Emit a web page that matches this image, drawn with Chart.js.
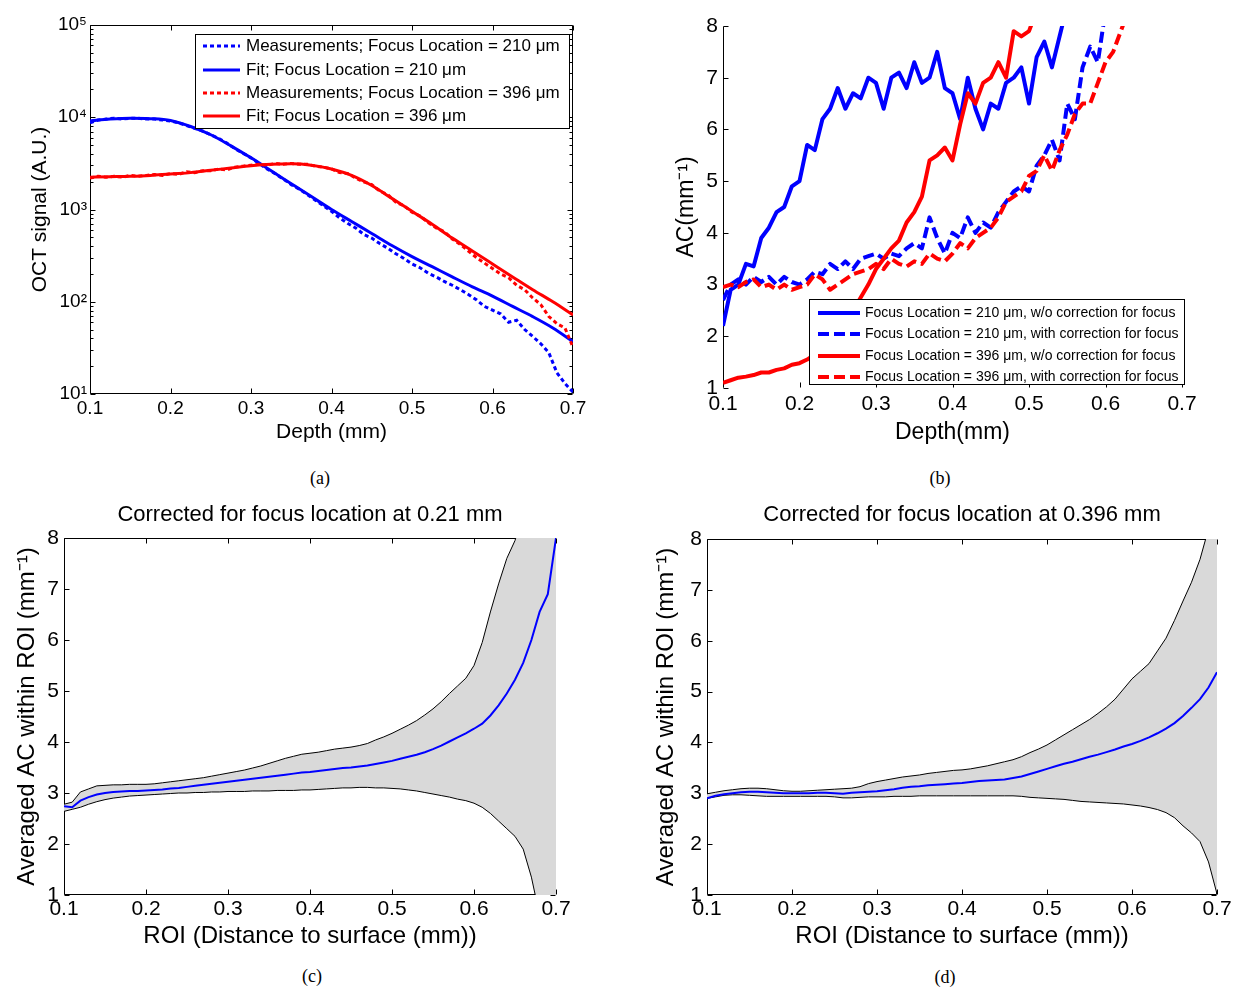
<!DOCTYPE html>
<html>
<head>
<meta charset="utf-8">
<script src="https://cdn.jsdelivr.net/npm/chart.js@4.4.1/dist/chart.umd.min.js"></script>
<style>
html,body{margin:0;padding:0;background:#fff;}
body{width:1241px;height:990px;position:relative;overflow:hidden;}
canvas{position:absolute;}
.cap{position:absolute;font-family:"Liberation Serif","Times New Roman",serif;font-size:18px;color:#000;transform:translate(-50%,-50%);white-space:nowrap;}
</style>
</head>
<body>
<canvas id="ca" width="620" height="455" style="left:0px;top:0px"></canvas>
<canvas id="cb" width="621" height="455" style="left:620px;top:0px"></canvas>
<canvas id="cc" width="620" height="470" style="left:0px;top:490px"></canvas>
<canvas id="cd" width="621" height="470" style="left:620px;top:490px"></canvas>
<div class="cap" style="left:320px;top:478px">(a)</div>
<div class="cap" style="left:940px;top:478px">(b)</div>
<div class="cap" style="left:312px;top:976px">(c)</div>
<div class="cap" style="left:945px;top:977px">(d)</div>
<script>
// ---------------- DATA ----------------
const depthTicks = [0.1, 0.2, 0.3, 0.4, 0.5, 0.6, 0.7];
const depthTickLabels = ['0.1', '0.2', '0.3', '0.4', '0.5', '0.6', '0.7'];
const octTicks = [10, 100, 1000, 10000, 100000];
const octTickLabels = ['10\u00B9', '10\u00B2', '10\u00B3', '10\u2074', '10\u2075'];
const acTicks = [1, 2, 3, 4, 5, 6, 7, 8];
const acTickLabels = ['1', '2', '3', '4', '5', '6', '7', '8'];

// (a) depth grid for measurements and averaged AC (mm)
const depth61 = [0.10,0.11,0.12,0.13,0.14,0.15,0.16,0.17,0.18,0.19,
  0.20,0.21,0.22,0.23,0.24,0.25,0.26,0.27,0.28,0.29,
  0.30,0.31,0.32,0.33,0.34,0.35,0.36,0.37,0.38,0.39,
  0.40,0.41,0.42,0.43,0.44,0.45,0.46,0.47,0.48,0.49,
  0.50,0.51,0.52,0.53,0.54,0.55,0.56,0.57,0.58,0.59,
  0.60,0.61,0.62,0.63,0.64,0.65,0.66,0.67,0.68,0.69,0.70];
const depthFit = [0.1,0.125,0.15,0.175,0.2,0.225,0.25,0.275,0.3,0.325,0.35,0.375,0.4,
  0.425,0.45,0.475,0.5,0.525,0.55,0.575,0.6,0.625,0.65,0.675,0.7];

const octMeas210 = [8710,9330,9550,9770,9550,9770,9770,9550,9550,9330,
  9120,8710,8130,7590,7080,6460,5890,5250,4570,4070,
  3630,3160,2750,2450,2140,1860,1660,1450,1260,1100,
  955,813,708,631,537,490,427,380,331,295,
  257,234,204,186,166,151,135,120,105,89,
  81,74,60,63,50,42,35,28,17,13,10.5];
const octFit210 = [9120,9550,9770,9660,9230,7940,6460,4900,3630,2630,1905,1380,1000,
  741,550,407,309,240,186,145,115,89,69,52,37];
const octMeas396 = [2190,2290,2240,2290,2240,2340,2290,2340,2400,2340,
  2455,2400,2570,2510,2630,2630,2750,2690,2880,2950,
  3020,3090,3020,3160,3090,3160,3090,3090,2950,2880,
  2750,2510,2455,2190,1995,1860,1585,1445,1200,1100,
  933,851,724,631,575,479,417,355,302,263,
  229,200,182,151,135,110,93,69,58,52,32];
const octFit396 = [2240,2265,2290,2340,2430,2510,2660,2820,2985,3090,3125,3020,2750,
  2340,1820,1320,955,692,490,355,257,186,135,100,72];

// (b) attenuation coefficient vs depth
const depthB = [0.10,0.11,0.12,0.13,0.14,0.15,0.16,0.17,0.18,0.19,
  0.20,0.21,0.22,0.23,0.24,0.25,0.26,0.27,0.28,0.29,
  0.30,0.31,0.32,0.33,0.34,0.35,0.36,0.37,0.38,0.39,
  0.40,0.41,0.42,0.43,0.44,0.45,0.46,0.47,0.48,0.49,
  0.50,0.51,0.52,0.53,0.54,0.55,0.56,0.57,0.58,0.59,
  0.60,0.61,0.62,0.63];
const ac210NoCorr = [2.2,2.9,3.0,3.4,3.35,3.9,4.1,4.4,4.5,4.9,
  5.0,5.7,5.6,6.2,6.4,6.8,6.4,6.7,6.6,7.0,
  6.9,6.4,7.0,7.1,6.8,7.3,6.9,7.0,7.5,6.8,
  6.7,6.2,7.0,6.4,6.0,6.5,6.4,6.9,7.0,7.2,
  6.5,7.4,7.7,7.2,7.8,8.4,null,null,null,null,
  null,null,null,null];
const ac210Corr = [2.7,3.0,3.1,3.0,3.15,3.05,3.15,3.0,3.15,3.05,
  3.0,3.1,3.25,3.2,3.4,3.3,3.45,3.3,3.5,3.55,
  3.6,3.5,3.6,3.55,3.7,3.8,3.7,4.3,3.9,3.6,
  4.0,3.9,4.3,4.0,4.2,4.1,4.4,4.6,4.8,4.9,
  4.8,5.3,5.5,5.8,5.4,6.5,6.2,7.2,7.6,7.3,
  8.3,null,null,null];
const ac396NoCorr = [1.1,1.15,1.2,1.22,1.25,1.3,1.3,1.35,1.38,1.45,
  1.48,1.55,1.65,1.8,1.95,2.1,2.3,2.5,2.75,3.0,
  3.3,3.5,3.7,3.85,4.2,4.4,4.7,5.4,5.5,5.65,
  5.4,6.1,6.7,6.5,6.9,7.0,7.3,7.0,7.9,7.8,
  7.9,8.3,null,null,null,null,null,null,null,null,
  null,null,null,null];
const ac396Corr = [2.95,3.0,2.95,3.05,3.1,2.95,3.0,2.9,3.0,2.9,
  2.95,3.0,3.2,3.1,2.9,3.0,3.1,3.2,3.25,3.3,
  3.4,3.3,3.5,3.4,3.35,3.45,3.4,3.6,3.5,3.45,
  3.6,3.8,3.7,3.9,4.0,4.1,4.3,4.6,4.7,4.8,
  5.1,5.2,5.5,5.2,5.6,5.9,6.3,6.5,6.5,6.9,
  7.3,7.5,7.9,8.3];

// (c) averaged AC within ROI, focus 0.21 mm
const meanC = [2.74,2.72,2.85,2.92,2.97,3.00,3.02,3.03,3.04,3.04,
  3.05,3.06,3.07,3.09,3.10,3.12,3.14,3.16,3.18,3.20,
  3.22,3.24,3.26,3.28,3.30,3.32,3.34,3.36,3.38,3.40,
  3.41,3.43,3.45,3.47,3.49,3.50,3.52,3.54,3.57,3.60,
  3.63,3.67,3.71,3.75,3.80,3.86,3.93,4.01,4.09,4.17,
  4.26,4.36,4.52,4.72,4.95,5.22,5.55,6.00,6.55,6.90,8.0];
const upperC = [2.78,2.82,3.02,3.08,3.14,3.15,3.16,3.16,3.17,3.17,
  3.17,3.18,3.20,3.22,3.24,3.26,3.28,3.30,3.33,3.36,
  3.39,3.42,3.45,3.49,3.53,3.58,3.63,3.68,3.72,3.76,
  3.78,3.80,3.83,3.86,3.88,3.90,3.93,3.97,4.04,4.10,
  4.17,4.25,4.33,4.42,4.53,4.65,4.79,4.95,5.10,5.25,
  5.50,5.95,6.55,7.10,7.60,7.95,8.5,9.0,9.5,10,10.5];
const lowerC = [2.64,2.68,2.72,2.78,2.83,2.87,2.90,2.92,2.94,2.95,
  2.96,2.97,2.98,2.99,3.00,3.00,3.01,3.01,3.02,3.02,
  3.03,3.03,3.03,3.04,3.04,3.04,3.05,3.05,3.05,3.06,
  3.06,3.07,3.08,3.09,3.10,3.10,3.11,3.11,3.10,3.10,
  3.09,3.08,3.06,3.04,3.01,2.98,2.95,2.92,2.88,2.85,
  2.80,2.72,2.60,2.45,2.30,2.15,1.90,1.35,0.6,0.0,-0.5];

// (d) averaged AC within ROI, focus 0.396 mm
const meanD = [2.90,2.95,2.98,3.00,3.02,3.03,3.03,3.02,3.01,3.00,
  3.00,3.00,3.00,3.01,3.01,3.00,2.99,3.01,3.02,3.03,
  3.04,3.06,3.08,3.11,3.13,3.14,3.16,3.17,3.18,3.19,
  3.20,3.22,3.24,3.25,3.26,3.27,3.30,3.33,3.38,3.43,
  3.48,3.53,3.58,3.62,3.67,3.72,3.76,3.81,3.86,3.92,
  3.97,4.03,4.10,4.18,4.27,4.38,4.52,4.68,4.85,5.08,5.38];
const upperD = [2.99,3.02,3.05,3.07,3.09,3.10,3.10,3.09,3.07,3.05,
  3.04,3.04,3.05,3.06,3.07,3.08,3.09,3.10,3.13,3.19,
  3.23,3.26,3.29,3.32,3.34,3.36,3.39,3.41,3.43,3.45,
  3.46,3.48,3.51,3.54,3.58,3.62,3.66,3.72,3.80,3.87,
  3.95,4.05,4.15,4.25,4.35,4.45,4.57,4.70,4.85,5.05,
  5.25,5.40,5.55,5.80,6.05,6.40,6.78,7.15,7.60,8.2,8.8];
const lowerD = [2.90,2.93,2.96,2.97,2.97,2.96,2.95,2.94,2.94,2.94,
  2.94,2.94,2.94,2.94,2.94,2.93,2.91,2.91,2.92,2.93,
  2.93,2.93,2.94,2.94,2.94,2.95,2.95,2.95,2.95,2.95,
  2.95,2.95,2.95,2.95,2.95,2.95,2.95,2.94,2.92,2.91,
  2.90,2.89,2.88,2.86,2.84,2.83,2.82,2.81,2.80,2.79,
  2.77,2.75,2.72,2.68,2.62,2.52,2.36,2.22,2.05,1.65,1.02];

// ---------------- STYLE / HELPERS ----------------
const FONT = '"Liberation Sans", Arial, Helvetica, sans-serif';
const BLUE = '#0000ff', RED = '#ff0000', GRAY = '#d9d9d9';
Chart.defaults.font.family = FONT;
Chart.defaults.color = '#000';

function pts(xs, ys) { return xs.map((x, i) => ({x: x, y: ys[i]})); }

function axis(o) {
  return {
    type: o.type || 'linear', min: o.min, max: o.max,
    grid: {display: false, drawTicks: false},
    border: {display: false},
    afterBuildTicks: s => { s.ticks = o.ticks.map(v => ({value: v})); },
    afterFit: s => { if (o.horizontal) s.height = o.fit; else s.width = o.fit; },
    ticks: {autoSkip: false, maxRotation: 0, minRotation: 0, padding: o.tickPad, color: '#000',
      font: {size: o.size, family: FONT}, callback: (v, i) => o.labels[i]},
    title: {display: true, text: o.title, color: '#000', font: {size: o.titleSize, family: FONT}, padding: o.titlePad}
  };
}

const matlabAxes = {
  id: 'matlabAxes',
  beforeDatasetsDraw(chart, args, o) {
    const {ctx, chartArea: a} = chart;
    const xs = chart.scales.x, ys = chart.scales.y;
    const L = a.left + 0.5, R = a.right - 0.5, T = a.top + 0.5, B = a.bottom - 0.5;
    ctx.save();
    ctx.strokeStyle = '#000'; ctx.lineWidth = 1;
    ctx.beginPath();
    const s = o.sides;
    if (s.includes('left')) { ctx.moveTo(L, T); ctx.lineTo(L, B); }
    if (s.includes('right')) { ctx.moveTo(R, T); ctx.lineTo(R, B); }
    if (s.includes('top')) { ctx.moveTo(L, T); ctx.lineTo(R, T); }
    if (s.includes('bottom')) { ctx.moveTo(L, B); ctx.lineTo(R, B); }
    const tl = o.tickLen;
    xs.ticks.forEach(t => {
      const p = Math.round(xs.getPixelForValue(t.value)) + 0.5;
      if (o.xTicks.includes('bottom')) { ctx.moveTo(p, B); ctx.lineTo(p, B - tl); }
      if (o.xTicks.includes('top')) { ctx.moveTo(p, T); ctx.lineTo(p, T + tl); }
    });
    ys.ticks.forEach(t => {
      const p = Math.round(ys.getPixelForValue(t.value)) + 0.5;
      if (o.yTicks.includes('left')) { ctx.moveTo(L, p); ctx.lineTo(L + tl, p); }
      if (o.yTicks.includes('right')) { ctx.moveTo(R, p); ctx.lineTo(R - tl, p); }
    });
    if (o.minorLog) {
      ys.ticks.forEach(t => {
        for (let m = 2; m <= 9; m++) {
          const v = t.value * m;
          if (v >= ys.max) continue;
          const p = Math.round(ys.getPixelForValue(v)) + 0.5;
          ctx.moveTo(L, p); ctx.lineTo(L + o.minorLen, p);
          ctx.moveTo(R, p); ctx.lineTo(R - o.minorLen, p);
        }
      });
    }
    ctx.stroke();
    ctx.restore();
  }
};

const boxLegend = {
  id: 'boxLegend',
  afterDraw(chart, args, o) {
    const {ctx} = chart;
    ctx.save();
    ctx.fillStyle = '#fff';
    ctx.fillRect(o.x, o.y, o.w, o.h);
    ctx.strokeStyle = '#000'; ctx.lineWidth = 1;
    ctx.strokeRect(o.x + 0.5, o.y + 0.5, o.w - 1, o.h - 1);
    ctx.font = o.fontSize + 'px ' + FONT;
    ctx.textBaseline = 'middle';
    chart.data.datasets.forEach((ds, i) => {
      const cy = o.rows[i];
      ctx.save();
      ctx.strokeStyle = ds.borderColor; ctx.lineWidth = ds.borderWidth;
      ctx.setLineDash(ds.borderDash || []);
      ctx.beginPath(); ctx.moveTo(o.lineX0, cy); ctx.lineTo(o.lineX1, cy); ctx.stroke();
      ctx.restore();
      ctx.fillStyle = '#000';
      ctx.fillText(ds.label, o.textX, cy);
    });
    ctx.restore();
  }
};

const baseOpts = {animation: false, responsive: false, devicePixelRatio: 1, events: []};

// ---------------- (a) ----------------
new Chart(document.getElementById('ca'), {
  type: 'line',
  data: {datasets: [
    {label: 'Measurements; Focus Location = 210 \u03BCm', data: pts(depth61, octMeas210), borderColor: BLUE, borderWidth: 3, borderDash: [4, 3], pointRadius: 0, fill: false, order: 4},
    {label: 'Fit; Focus Location = 210 \u03BCm', data: pts(depthFit, octFit210), borderColor: BLUE, borderWidth: 3, pointRadius: 0, fill: false, cubicInterpolationMode: 'monotone', order: 3},
    {label: 'Measurements; Focus Location = 396 \u03BCm', data: pts(depth61, octMeas396), borderColor: RED, borderWidth: 3, borderDash: [4, 3], pointRadius: 0, fill: false, order: 2},
    {label: 'Fit; Focus Location = 396 \u03BCm', data: pts(depthFit, octFit396), borderColor: RED, borderWidth: 3, pointRadius: 0, fill: false, cubicInterpolationMode: 'monotone', order: 1}
  ]},
  options: Object.assign({}, baseOpts, {
    layout: {padding: {left: 0, top: 25, right: 47, bottom: 0}},
    scales: {
      x: axis({min: 0.1, max: 0.7, ticks: depthTicks, labels: depthTickLabels, size: 19, fit: 61, horizontal: true, tickPad: 3,
        title: 'Depth (mm)', titleSize: 21, titlePad: {top: 0, bottom: 10}}),
      y: axis({type: 'logarithmic', min: 10, max: 100000, ticks: octTicks, labels: octTickLabels, size: 19, fit: 90, tickPad: 3,
        title: 'OCT signal (A.U.)', titleSize: 21, titlePad: {top: 28, bottom: 0}})
    },
    plugins: {
      legend: {display: false}, tooltip: {enabled: false},
      matlabAxes: {sides: ['left', 'right', 'top', 'bottom'], xTicks: ['bottom', 'top'], yTicks: ['left', 'right'], tickLen: 5, minorLog: true, minorLen: 3},
      boxLegend: {x: 195, y: 34, w: 375, h: 95, rows: [46, 70, 93, 116], lineX0: 203, lineX1: 240, textX: 246, fontSize: 17}
    }
  }),
  plugins: [matlabAxes, boxLegend]
});

// ---------------- (b) ----------------
new Chart(document.getElementById('cb'), {
  type: 'line',
  data: {datasets: [
    {label: 'Focus Location = 210 \u03BCm, w/o correction for focus', data: pts(depthB, ac210NoCorr), borderColor: BLUE, borderWidth: 4, pointRadius: 0, fill: false, borderJoinStyle: 'round', order: 4},
    {label: 'Focus Location = 210 \u03BCm, with correction for focus', data: pts(depthB, ac210Corr), borderColor: BLUE, borderWidth: 4, borderDash: [11, 5], pointRadius: 0, fill: false, borderJoinStyle: 'round', order: 3},
    {label: 'Focus Location = 396 \u03BCm, w/o correction for focus', data: pts(depthB, ac396NoCorr), borderColor: RED, borderWidth: 4, pointRadius: 0, fill: false, borderJoinStyle: 'round', order: 2},
    {label: 'Focus Location = 396 \u03BCm, with correction for focus', data: pts(depthB, ac396Corr), borderColor: RED, borderWidth: 4, borderDash: [11, 5], pointRadius: 0, fill: false, borderJoinStyle: 'round', order: 1}
  ]},
  options: Object.assign({}, baseOpts, {
    layout: {padding: {left: 0, top: 26, right: 59, bottom: 0}},
    scales: {
      x: axis({min: 0.1, max: 0.7, ticks: depthTicks, labels: depthTickLabels, size: 21, fit: 67, horizontal: true, tickPad: 4,
        title: 'Depth(mm)', titleSize: 23, titlePad: {top: 0, bottom: 9}}),
      y: axis({min: 1, max: 8, ticks: acTicks, labels: acTickLabels, size: 21, fit: 103, tickPad: 5,
        title: 'AC(mm\u207B\u00B9)', titleSize: 23, titlePad: {top: 53, bottom: 0}})
    },
    plugins: {
      legend: {display: false}, tooltip: {enabled: false},
      matlabAxes: {sides: ['left'], xTicks: ['bottom'], yTicks: ['left'], tickLen: 5},
      boxLegend: {x: 189, y: 299, w: 376, h: 86, rows: [313, 334, 356, 377], lineX0: 198, lineX1: 240, textX: 245, fontSize: 14}
    }
  }),
  plugins: [matlabAxes, boxLegend]
});

// ---------------- (c) & (d) ----------------
function roiChart(id, title, mean, upper, lower, yFit, yTitlePad, rightPad, titlePadBottom) {
  return new Chart(document.getElementById(id), {
    type: 'line',
    data: {datasets: [
      {label: 'Mean', data: pts(depth61, mean), borderColor: BLUE, borderWidth: 2, pointRadius: 0, fill: false, order: 1},
      {label: 'Upper', data: pts(depth61, upper), borderColor: '#000', borderWidth: 1, pointRadius: 0, fill: false, order: 2},
      {label: 'Lower', data: pts(depth61, lower), borderColor: '#000', borderWidth: 1, pointRadius: 0, fill: '-1', backgroundColor: GRAY, order: 3}
    ]},
    options: Object.assign({}, baseOpts, {
      layout: {padding: {left: 0, top: 0, right: rightPad, bottom: 0}},
      scales: {
        x: axis({min: 0.1, max: 0.7, ticks: depthTicks, labels: depthTickLabels, size: 21, fit: 65, horizontal: true, tickPad: 2,
          title: 'ROI (Distance to surface (mm))', titleSize: 24, titlePad: {top: 0, bottom: 9}}),
        y: axis({min: 1, max: 8, ticks: acTicks, labels: acTickLabels, size: 21, fit: yFit, tickPad: 5,
          title: 'Averaged AC within ROI (mm\u207B\u00B9)', titleSize: 24, titlePad: {top: yTitlePad, bottom: 0}})
      },
      plugins: {
        legend: {display: false}, tooltip: {enabled: false},
        title: {display: true, text: title, fullSize: false, color: '#000', font: {size: 22, weight: 'normal', family: FONT}, padding: {top: 12, bottom: titlePadBottom}},
        matlabAxes: {sides: ['left', 'right', 'top', 'bottom'], xTicks: ['bottom', 'top'], yTicks: ['left', 'right'], tickLen: 5}
      }
    }),
    plugins: [matlabAxes]
  });
}
roiChart('cc', 'Corrected for focus location at 0.21 mm', meanC, upperC, lowerC, 64, 12.6, 64, 9.6);
roiChart('cd', 'Corrected for focus location at 0.396 mm', meanD, upperD, lowerD, 87, 31.6, 24, 10.6);
</script>
</body>
</html>
